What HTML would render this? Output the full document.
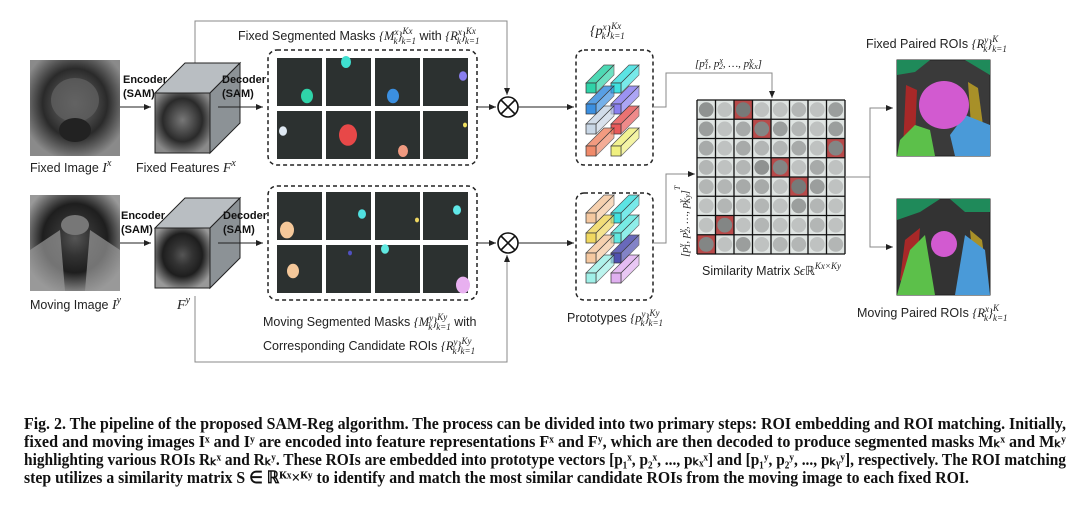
<!DOCTYPE html>
<html><head><meta charset="utf-8"><style>
html,body{margin:0;padding:0;background:#fff;}
svg{display:block;}
.s{font-family:"Liberation Sans",sans-serif;font-size:12.5px;fill:#222;}
.m{font-family:"Liberation Serif",serif;font-style:italic;fill:#222;}
.b{font-family:"Liberation Sans",sans-serif;font-size:11px;font-weight:bold;fill:#111;}
.cap{font-family:"Liberation Serif",serif;font-weight:bold;font-size:17px;fill:#111;}
</style></head><body>
<svg id="fig" width="1080" height="515" viewBox="0 0 1080 515" xmlns="http://www.w3.org/2000/svg">
<defs>
<marker id="ar" markerWidth="8" markerHeight="8" refX="7" refY="4" orient="auto"><path d="M0,1 L7,4 L0,7 Z" fill="#222"/></marker>
<radialGradient id="mri1" cx="50%" cy="45%" r="60%"><stop offset="0" stop-color="#777"/><stop offset=".35" stop-color="#4a4a4a"/><stop offset=".6" stop-color="#2a2a2a"/><stop offset="1" stop-color="#8a8a8a"/></radialGradient>
<radialGradient id="mri2" cx="50%" cy="45%" r="60%"><stop offset="0" stop-color="#555"/><stop offset=".3" stop-color="#333"/><stop offset=".6" stop-color="#1e1e1e"/><stop offset="1" stop-color="#999"/></radialGradient>
</defs>

<polyline points="195,75 195,21 507,21 507,95" fill="none" stroke="#888" stroke-width="1" marker-end="url(#ar)"/>
<polyline points="195,296 195,362 507,362 507,255" fill="none" stroke="#888" stroke-width="1" marker-end="url(#ar)"/>

<g>
<rect x="30" y="60" width="90" height="96" fill="url(#mri1)"/>
<ellipse cx="75" cy="100" rx="24" ry="22" fill="#5e5e5e" opacity=".8"/>
<ellipse cx="75" cy="130" rx="16" ry="12" fill="#222"/>
</g>
<text class="s" x="30" y="172">Fixed Image <tspan class="m" font-size="14">I</tspan><tspan class="m" font-size="10" dy="-6">x</tspan></text>
<g>
<rect x="30" y="195" width="90" height="96" fill="url(#mri2)"/>
<path d="M30,250 L60,230 L65,291 L30,291Z" fill="#999" opacity=".7"/>
<path d="M120,250 L90,230 L85,291 L120,291Z" fill="#999" opacity=".7"/>
<ellipse cx="75" cy="225" rx="14" ry="10" fill="#777"/>
</g>
<text class="s" x="30" y="309">Moving Image <tspan class="m" font-size="14">I</tspan><tspan class="m" font-size="10" dy="-6">y</tspan></text>

<line x1="120" y1="107" x2="151" y2="107" stroke="#222" marker-end="url(#ar)"/>
<line x1="120" y1="243" x2="151" y2="243" stroke="#222" marker-end="url(#ar)"/>
<text class="b" x="123" y="83">Encoder</text><text class="b" x="123" y="97">(SAM)</text>
<text class="b" x="121" y="219">Encoder</text><text class="b" x="121" y="233">(SAM)</text>

<g>
<polygon points="155,93 185,63 240,63 210,93" fill="#b9bec2" stroke="#222"/>
<polygon points="210,93 240,63 240,123 210,153" fill="#8c9296" stroke="#222"/>
<rect x="155" y="93" width="55" height="60" fill="url(#mri1)" stroke="#222"/>
</g>
<text class="s" x="136" y="172">Fixed Features  <tspan class="m" font-size="14">F</tspan><tspan class="m" font-size="10" dy="-6">x</tspan></text>
<g>
<polygon points="155,228 185,198 240,198 210,228" fill="#b9bec2" stroke="#222"/>
<polygon points="210,228 240,198 240,258 210,288" fill="#8c9296" stroke="#222"/>
<rect x="155" y="228" width="55" height="60" fill="url(#mri2)" stroke="#222"/>
</g>
<text class="m" x="177" y="309" font-size="14">F<tspan font-size="10" dy="-6">y</tspan></text>

<line x1="218" y1="107" x2="263" y2="107" stroke="#222" marker-end="url(#ar)"/>
<line x1="218" y1="243" x2="263" y2="243" stroke="#222" marker-end="url(#ar)"/>
<text class="b" x="222" y="83">Decoder</text><text class="b" x="222" y="97">(SAM)</text>
<text class="b" x="223" y="219">Decoder</text><text class="b" x="223" y="233">(SAM)</text>

<text class="s" x="238" y="40">Fixed Segmented Masks <tspan class="m">{M</tspan><tspan class="m" font-size="9" dy="-5">x</tspan><tspan class="m" font-size="9" dx="-5" dy="9">k</tspan><tspan class="m" dy="-4">}</tspan><tspan class="m" font-size="9" dy="-6">Kx</tspan><tspan class="m" font-size="9" dx="-11" dy="10">k=1</tspan><tspan dy="-4"> with </tspan><tspan class="m">{R</tspan><tspan class="m" font-size="9" dy="-5">x</tspan><tspan class="m" font-size="9" dx="-5" dy="9">k</tspan><tspan class="m" dy="-4">}</tspan><tspan class="m" font-size="9" dy="-6">Kx</tspan><tspan class="m" font-size="9" dx="-11" dy="10">k=1</tspan></text>
<rect x="268" y="50" width="209" height="115" rx="9" fill="none" stroke="#222" stroke-width="1.5" stroke-dasharray="4,3"/>
<rect x="268" y="186" width="209" height="114" rx="9" fill="none" stroke="#222" stroke-width="1.5" stroke-dasharray="4,3"/>
<g id="tiles"></g>
<text class="s" x="263" y="326">Moving Segmented Masks <tspan class="m">{M</tspan><tspan class="m" font-size="9" dy="-5">y</tspan><tspan class="m" font-size="9" dx="-5" dy="9">k</tspan><tspan class="m" dy="-4">}</tspan><tspan class="m" font-size="9" dy="-6">Ky</tspan><tspan class="m" font-size="9" dx="-11" dy="10">k=1</tspan><tspan dy="-4"> with</tspan></text>
<text class="s" x="263" y="350">Corresponding Candidate ROIs <tspan class="m">{R</tspan><tspan class="m" font-size="9" dy="-5">y</tspan><tspan class="m" font-size="9" dx="-5" dy="9">k</tspan><tspan class="m" dy="-4">}</tspan><tspan class="m" font-size="9" dy="-6">Ky</tspan><tspan class="m" font-size="9" dx="-11" dy="10">k=1</tspan></text>

<line x1="477" y1="107" x2="496" y2="107" stroke="#222" marker-end="url(#ar)"/>
<line x1="477" y1="243" x2="496" y2="243" stroke="#222" marker-end="url(#ar)"/>
<g><circle cx="508" cy="107" r="10" fill="#fff" stroke="#111" stroke-width="1.6"/><path d="M501,100 L515,114 M515,100 L501,114" stroke="#111" stroke-width="1.6"/></g>
<g><circle cx="508" cy="243" r="10" fill="#fff" stroke="#111" stroke-width="1.6"/><path d="M501,236 L515,250 M515,236 L501,250" stroke="#111" stroke-width="1.6"/></g>
<line x1="518" y1="107" x2="574" y2="107" stroke="#222" marker-end="url(#ar)"/>
<line x1="518" y1="243" x2="574" y2="243" stroke="#222" marker-end="url(#ar)"/>

<text class="m" x="590" y="35" font-size="14">{p<tspan font-size="9" dy="-5">x</tspan><tspan font-size="9" dx="-5" dy="9">k</tspan><tspan dy="-4">}</tspan><tspan font-size="9" dy="-6">Kx</tspan><tspan font-size="9" dx="-11" dy="10">k=1</tspan></text>
<rect x="576" y="50" width="77" height="115" rx="8" fill="none" stroke="#222" stroke-width="1.5" stroke-dasharray="4,3"/>
<rect x="576" y="193" width="77" height="107" rx="8" fill="none" stroke="#222" stroke-width="1.5" stroke-dasharray="4,3"/>
<g id="bars"></g>
<text class="s" x="567" y="322">Prototypes <tspan class="m">{p</tspan><tspan class="m" font-size="9" dy="-5">y</tspan><tspan class="m" font-size="9" dx="-5" dy="9">k</tspan><tspan class="m" dy="-4">}</tspan><tspan class="m" font-size="9" dy="-6">Ky</tspan><tspan class="m" font-size="9" dx="-11" dy="10">k=1</tspan></text>

<polyline points="653,107 666,107 666,73 772,73 772,98" fill="none" stroke="#888" marker-end="url(#ar)"/>
<text class="m" x="695" y="67" font-size="11">[p<tspan font-size="8" dy="-4">x</tspan><tspan font-size="8" dx="-4" dy="6">1</tspan><tspan dy="-2">, p</tspan><tspan font-size="8" dy="-4">x</tspan><tspan font-size="8" dx="-4" dy="6">2</tspan><tspan dy="-2">, …, p</tspan><tspan font-size="8" dy="-4">x</tspan><tspan font-size="8" dx="-4" dy="6">Kx</tspan><tspan dy="-2">]</tspan></text>
<polyline points="653,243 666,243 666,174 695,174" fill="none" stroke="#888" marker-end="url(#ar)"/>
<text class="m" font-size="11" transform="translate(688,257) rotate(-90)">[p<tspan font-size="8" dy="-4">y</tspan><tspan font-size="8" dx="-4" dy="6">1</tspan><tspan dy="-2">, p</tspan><tspan font-size="8" dy="-4">y</tspan><tspan font-size="8" dx="-4" dy="6">2</tspan><tspan dy="-2">, …, p</tspan><tspan font-size="8" dy="-4">y</tspan><tspan font-size="8" dx="-4" dy="6">Ky</tspan><tspan dy="-2">]</tspan><tspan font-size="8" dy="-8">T</tspan></text>

<g id="matrix"></g>
<text class="s" x="702" y="275" font-size="13">Similarity Matrix <tspan class="m">S</tspan><tspan class="m">ϵ</tspan><tspan>ℝ</tspan><tspan class="m" font-size="9" dy="-6">Kx×Ky</tspan></text>

<polyline points="845,177 870,177" fill="none" stroke="#888"/>
<polyline points="870,177 870,108 893,108" fill="none" stroke="#888" marker-end="url(#ar)"/>
<polyline points="870,177 870,247 893,247" fill="none" stroke="#888" marker-end="url(#ar)"/>
<text class="s" x="866" y="48">Fixed Paired ROIs <tspan class="m">{R</tspan><tspan class="m" font-size="9" dy="-5">y</tspan><tspan class="m" font-size="9" dx="-5" dy="9">k</tspan><tspan class="m" dy="-4">}</tspan><tspan class="m" font-size="9" dy="-6">K</tspan><tspan class="m" font-size="9" dx="-6" dy="10">k=1</tspan></text>
<g>
<rect x="897" y="60" width="93" height="96" fill="#3a3a3a" stroke="#222"/>
<path d="M897,60 L930,60 L915,72 L897,75Z" fill="#1f8a5a"/><path d="M965,60 L990,60 L990,75Z" fill="#1f8a5a"/>
<path d="M906,85 L917,90 L915,140 L903,148Z" fill="#a82828"/>
<path d="M968,82 L978,88 L985,140 L972,140Z" fill="#a89028"/>
<path d="M897,156 L900,140 L915,125 L930,130 L935,156Z" fill="#5cc04a"/>
<path d="M990,156 L990,125 L965,115 L950,135 L955,156Z" fill="#4a9ad8"/>
<ellipse cx="944" cy="105" rx="25" ry="24" fill="#d25ad0"/>
</g>
<g>
<rect x="897" y="199" width="93" height="96" fill="#333" stroke="#222"/>
<path d="M897,199 L940,199 L920,212 L897,220Z" fill="#1f8a5a"/><path d="M950,199 L990,199 L990,212 L965,212Z" fill="#1f8a5a"/>
<path d="M905,240 L920,228 L915,295 L900,280Z" fill="#a82828"/>
<path d="M970,230 L982,240 L988,285 L975,285Z" fill="#a89028"/>
<path d="M897,295 L910,250 L925,235 L935,295Z" fill="#5cc04a"/>
<path d="M990,295 L985,250 L965,235 L955,295Z" fill="#4a9ad8"/>
<ellipse cx="944" cy="244" rx="13" ry="13" fill="#d25ad0"/>
</g>
<text class="s" x="857" y="317">Moving Paired ROIs <tspan class="m">{R</tspan><tspan class="m" font-size="9" dy="-5">x</tspan><tspan class="m" font-size="9" dx="-5" dy="9">k</tspan><tspan class="m" dy="-4">}</tspan><tspan class="m" font-size="9" dy="-6">K</tspan><tspan class="m" font-size="9" dx="-6" dy="10">k=1</tspan></text>

<g>
<text class="cap" x="24" y="429" textLength="1042" lengthAdjust="spacingAndGlyphs">Fig. 2. The pipeline of the proposed SAM-Reg algorithm. The process can be divided into two primary steps: ROI embedding and ROI matching. Initially,</text>
<text class="cap" x="24" y="447" textLength="1042" lengthAdjust="spacingAndGlyphs">fixed and moving images Iˣ and Iʸ are encoded into feature representations Fˣ and Fʸ, which are then decoded to produce segmented masks Mₖˣ and Mₖʸ</text>
<text class="cap" x="24" y="465" textLength="1042" lengthAdjust="spacingAndGlyphs">highlighting various ROIs Rₖˣ and Rₖʸ. These ROIs are embedded into prototype vectors [p₁ˣ, p₂ˣ, ..., pₖₓˣ] and [p₁ʸ, p₂ʸ, ..., pₖᵧʸ], respectively. The ROI matching</text>
<text class="cap" x="24" y="483" textLength="945" lengthAdjust="spacingAndGlyphs">step utilizes a similarity matrix S ∈ ℝᴷˣ×ᴷʸ  to identify and match the most similar candidate ROIs from the moving image to each fixed ROI.</text>
</g>
</svg>
<script>
const simRow0=[0.6,0.2,0.8,0.2,0.2,0.3,0.2,0.5];
const simRow1=[0.5,0.2,0.4,0.7,0.5,0.3,0.2,0.5];
const simRow2=[0.4,0.2,0.4,0.3,0.3,0.4,0.2,0.7];
const simRow3=[0.3,0.2,0.3,0.6,0.7,0.2,0.4,0.2];
const simRow4=[0.3,0.3,0.4,0.4,0.2,0.8,0.5,0.2];
const simRow5=[0.2,0.3,0.2,0.3,0.2,0.5,0.3,0.2];
const simRow6=[0.2,0.7,0.2,0.3,0.2,0.2,0.3,0.2];
const simRow7=[0.7,0.2,0.5,0.2,0.3,0.3,0.2,0.3];
const matchCol=[2,3,7,4,5,-1,1,0];
const rows=[simRow0,simRow1,simRow2,simRow3,simRow4,simRow5,simRow6,simRow7];
const NS='http://www.w3.org/2000/svg';
function mk(t,a,p){const e=document.createElementNS(NS,t);for(const k in a)e.setAttribute(k,a[k]);p.appendChild(e);return e;}
const mx=697,my=100,mw=148,mh=154,cw=mw/8,ch=mh/8;
const xs=i=>mx+i*cw, ys=j=>my+j*ch;
const M=document.getElementById('matrix');
rows.forEach((r,j)=>r.forEach((v,i)=>{
  const hl=matchCol[j]===i;
  const c=mk('rect',{x:xs(i),y:ys(j),width:cw,height:ch,fill:hl?'#b84a4a':'#dfe4e2'},M);
  
  
  const g=Math.round(215-v*120);
  const d=mk('circle',{cx:xs(i)+cw/2,cy:ys(j)+ch/2,r:Math.min(cw,ch)*0.4,fill:`rgb(${g},${g+3},${g+2})`},M);
  
  
}));
for(let k=0;k<=8;k++){mk('line',{x1:xs(k),y1:my,x2:xs(k),y2:my+mh,stroke:'#111','stroke-width':1.3},M);mk('line',{x1:mx,y1:ys(k),x2:mx+mw,y2:ys(k),stroke:'#111','stroke-width':1.3},M);}
const T=document.getElementById('tiles');
const tx=[277,326,375,423],tyF=[58,111],tyM=[192,245];
const fixedBlobs=[[30,38,'#2fd3a8'],[20,4,'#3fe0d0'],[18,38,'#3b8fe0'],[40,18,'#8a7ff0'],[6,20,'#dfe9f2'],[22,24,'#e84848'],[28,40,'#f09a80'],[42,14,'#f0e060']];
const movBlobs=[[10,38,'#f5c89a'],[36,22,'#50e0e0'],[42,28,'#f0d860'],[34,18,'#60e8e8'],[16,26,'#f5c89a'],[24,8,'#5050c0'],[10,4,'#60e8e0'],[40,40,'#e8b0f0']];
const fs=[6,5,6,4,4,9,5,2],ms=[7,4,2,4,6,2,4,7];
function tiles(ys0,blobs,sz,nm){for(let r=0;r<2;r++)for(let c=0;c<4;c++){const k=r*4+c;
 const t=mk('rect',{x:tx[c],y:ys0[r],width:45,height:48,fill:'#2c3130'},T);
 
 
 const b=blobs[k];mk('ellipse',{cx:tx[c]+b[0],cy:ys0[r]+b[1],rx:sz[k],ry:sz[k]*1.2,fill:b[2]},T);}}
tiles(tyF,fixedBlobs,fs,'fixed-mask-tile');tiles(tyM,movBlobs,ms,'moving-mask-tile');
const B=document.getElementById('bars');
const colX=[586,611],rowYF=[83,104,124,146],rowYM=[225,245,265,285];
const colF=[['#2fd3a8','#3fe0e0'],['#3b8fe0','#8a7ff0'],['#c9d7e6','#e85a5a'],['#f08a6a','#f0f080']];
const colM=[['#f5c8a0','#40e0e0'],['#f0d860','#60e8e0'],['#f5c8a0','#5050b0'],['#a0f0e8','#e0b0f0']];
function bar(x,y,c){const s=10,dx=18,dy=-18;
 mk('polygon',{points:`${x},${y} ${x+dx},${y+dy} ${x+dx+s},${y+dy} ${x+s},${y}`,fill:c,stroke:'#333','stroke-width':.7,opacity:.85},B);
 mk('polygon',{points:`${x+s},${y} ${x+dx+s},${y+dy} ${x+dx+s},${y+dy+s} ${x+s},${y+s}`,fill:c,stroke:'#333','stroke-width':.7,opacity:.7},B);
 const f=mk('rect',{x:x,y:y,width:s,height:s,fill:c,stroke:'#333','stroke-width':.7},B);
 
 }
for(let r=0;r<4;r++)for(let c=0;c<2;c++){bar(colX[c],rowYF[r],colF[r][c]);bar(colX[c],rowYM[r]-12,colM[r][c]);}
</script>
</body></html>
